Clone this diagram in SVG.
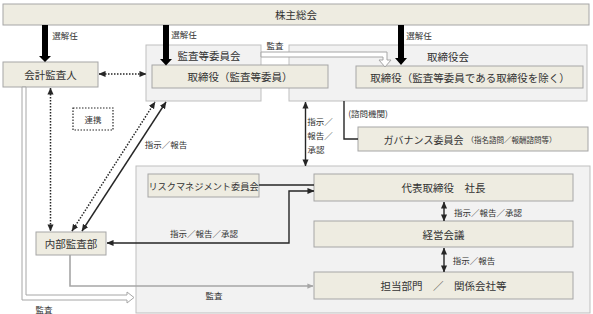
<svg xmlns="http://www.w3.org/2000/svg" width="593" height="314" viewBox="0 0 593 314">
<defs>
<style>
.bx{fill:#EEECE1;stroke:#A6A6A6;stroke-width:1}
.grp{fill:#F2F2F2;stroke:#BFBFBF;stroke-width:1}
text{font-family:"Noto Sans CJK JP","Noto Sans",sans-serif;fill:#333333;text-anchor:middle;dominant-baseline:central}
.t{font-size:10.5px}
.s{font-size:8.5px}
.xs{font-size:7.5px}
.ln{fill:none;stroke:#262626;stroke-width:1.4}
.dot{fill:none;stroke:#262626;stroke-width:1.5;stroke-dasharray:1.5 1.5}
.gl{fill:none;stroke:#A6A6A6;stroke-width:1.6}
.blk{fill:#000000}
.hol{fill:#FFFFFF;stroke:#A6A6A6;stroke-width:1}
</style>
<marker id="ah" viewBox="0 0 8 8" refX="7.5" refY="4" markerWidth="7" markerHeight="7" markerUnits="userSpaceOnUse" orient="auto-start-reverse">
<path d="M0,0.5 L8,4 L0,7.5 Z" fill="#262626"/>
</marker>
<marker id="ahg" viewBox="0 0 8 8" refX="7.5" refY="4" markerWidth="6" markerHeight="6" markerUnits="userSpaceOnUse" orient="auto-start-reverse">
<path d="M0,0.5 L8,4 L0,7.5 Z" fill="#A6A6A6"/>
</marker>
</defs>

<g id="n-kabunushi">
<rect class="bx" x="3" y="4" width="586" height="21"/>
<text class="t" x="296" y="14.5">株主総会</text>
</g>

<g id="g-kansatou">
<rect class="grp" x="146" y="45" width="115" height="56"/>
<text class="t" x="209" y="55">監査等委員会</text>
</g>

<g id="g-torishimariyakukai">
<rect class="grp" x="289" y="45" width="298" height="56"/>
<text class="t" x="448" y="56">取締役会</text>
</g>

<g id="n-torishimariyaku-kansa">
<rect class="bx" x="152" y="65" width="176" height="23"/>
<text class="t" x="240" y="76.5">取締役（監査等委員）</text>
</g>

<g id="n-torishimariyaku">
<rect class="bx" x="356" y="66" width="227" height="22"/>
<text class="t" x="470" y="77">取締役（監査等委員である取締役を除く）</text>
</g>

<g id="n-kaikei">
<rect class="bx" x="3" y="62" width="95" height="25"/>
<text class="t" x="50.5" y="74.5">会計監査人</text>
</g>

<g id="n-renkei">
<rect x="73" y="108" width="40" height="22" fill="#FFFFFF" stroke="#262626" stroke-width="1.2" stroke-dasharray="1.5 1.5"/>
<text class="s" x="93" y="119">連携</text>
</g>

<g id="g-shikkou">
<rect class="grp" x="136" y="166" width="454" height="147"/>
</g>

<g id="n-governance">
<rect class="bx" x="358" y="127" width="230" height="24"/>
<text x="470" y="139"><tspan style="font-size:10px">ガバナンス委員会</tspan><tspan style="font-size:7.5px" dx="3">（指名諮問／報酬諮問等）</tspan></text>
</g>

<g id="n-risk">
<rect class="bx" x="148" y="174" width="111" height="23"/>
<text x="203.5" y="185.5" style="font-size:9.2px">リスクマネジメント委員会</text>
</g>

<g id="n-daihyo">
<rect class="bx" x="314" y="174" width="259" height="27"/>
<text class="t" x="443.5" y="187.5">代表取締役　社長</text>
</g>

<g id="n-keiei">
<rect class="bx" x="314" y="221" width="259" height="26"/>
<text class="t" x="443.5" y="234">経営会議</text>
</g>

<g id="n-tanto">
<rect class="bx" x="314" y="272" width="259" height="27"/>
<text class="t" x="443.5" y="285.5">担当部門　／　関係会社等</text>
</g>

<g id="n-naibu">
<rect class="bx" x="36" y="232" width="70" height="23"/>
<text class="t" x="71" y="243.5">内部監査部</text>
</g>

<g id="connectors">
<!-- 選解任 thick arrows -->
<polygon class="blk" points="42,25 48,25 48,56 51,56 45,62 39,56 42,56"/>
<polygon class="blk" points="163,25 169,25 169,59 172,59 166,65.5 160,59 163,59"/>
<polygon class="blk" points="398,25 404,25 404,58 407,58 401,65 395,58 398,58"/>
<text class="s" x="65" y="35">選解任</text>
<text class="s" x="184" y="34">選解任</text>
<text class="s" x="419" y="35">選解任</text>

<!-- 監査 hollow arrow to 取締役 -->
<polygon class="hol" points="261,52 387,52 387,60 391,60 385,67 379,60 383,60 383,57 261,57"/>
<text class="s" x="275" y="45">監査</text>

<!-- 会計監査人 <-> 監査等委員会 -->
<line class="dot" x1="99" y1="74" x2="146" y2="74" marker-start="url(#ah)" marker-end="url(#ah)"/>
<!-- 会計監査人 <-> 内部監査部 -->
<line class="dot" x1="50.5" y1="88" x2="50.5" y2="231" marker-start="url(#ah)" marker-end="url(#ah)"/>
<!-- diagonals -->
<line class="dot" x1="72" y1="231" x2="155" y2="102" marker-start="url(#ah)" marker-end="url(#ah)"/>
<line class="ln" x1="82" y1="231" x2="166" y2="102" marker-start="url(#ah)" marker-end="url(#ah)"/>
<text class="s" x="166" y="144">指示／報告</text>

<!-- 取締役会 <-> 執行 -->
<line class="ln" x1="305.5" y1="102" x2="305.5" y2="166" marker-start="url(#ah)" marker-end="url(#ah)"/>
<text class="s" x="320" y="121">指示／</text>
<text class="s" x="320" y="135">報告／</text>
<text class="s" x="316" y="149">承認</text>

<!-- 諮問機関 -->
<path class="ln" d="M344,101 V139 H358"/>
<text class="s" x="368" y="113">(諮問機関)</text>

<!-- リスク -> 代表 -->
<line class="ln" x1="259" y1="185" x2="314" y2="185"/>
<!-- 内部監査部 <-> 代表 -->
<path class="ln" d="M107,243 H289 V191 H314" marker-start="url(#ah)" marker-end="url(#ah)"/>
<text class="s" x="204" y="233">指示／報告／承認</text>

<!-- 代表 <-> 経営 -->
<line class="ln" x1="444" y1="202" x2="444" y2="221" marker-start="url(#ah)" marker-end="url(#ah)"/>
<text class="s" x="488" y="212">指示／報告／承認</text>
<!-- 経営 <-> 担当 -->
<line class="ln" x1="444" y1="248" x2="444" y2="272" marker-start="url(#ah)" marker-end="url(#ah)"/>
<text class="s" x="474" y="260">指示／報告</text>

<!-- 内部監査部 監査 -->
<path class="gl" d="M70,255 V286 H313" marker-end="url(#ahg)"/>
<text class="s" x="214" y="295">監査</text>

<!-- 会計監査人 監査 hollow -->
<polygon class="hol" points="22,87 26,87 26,295 127,295 127,292 134,297.5 127,303 127,300 22,300"/>
<text class="s" x="44" y="309">監査</text>
</g>
</svg>
